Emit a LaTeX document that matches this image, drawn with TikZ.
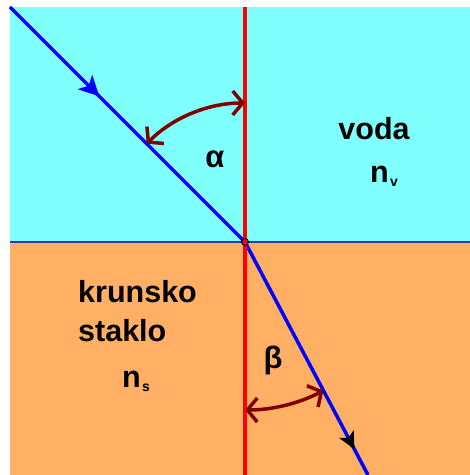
\documentclass[tikz,border=0pt]{standalone}
\usepackage{fontspec}
\setmainfont{Liberation Sans}
\usetikzlibrary{arrows.meta,decorations.markings}
\definecolor{Water}{HTML}{80FFFF}
\definecolor{Glass}{HTML}{FFB064}
\definecolor{RayBlue}{HTML}{0000FF}
\definecolor{NormalRed}{HTML}{FF0000}
\definecolor{AngleRed}{HTML}{800000}
\definecolor{Border}{HTML}{2E3DA8}

\begin{document}
\begin{tikzpicture}[x=1pt,y=1pt,
    ray/.style={RayBlue,line width=3.5pt},
    angarc/.style={AngleRed,line width=3.5pt,
      {Straight Barb[length=10pt,width=24pt]}-{Straight Barb[length=10pt,width=24pt]}},
    lbl/.style={font=\fontsize{30.5}{35}\selectfont\bfseries,inner sep=0pt},
    greek/.style={font=\fontsize{31}{34}\selectfont\bfseries,inner sep=0pt},
    sub/.style={font=\fontsize{14}{15}\selectfont\bfseries,inner sep=0pt}]
      \useasboundingbox (0,0) rectangle (470,475);
      % media
      \fill[Water] (10,233) rectangle (470,468);
      \fill[Glass] (10,0) rectangle (470,233);
      \draw[Border,line width=2pt] (10,233) -- (470,233);

      \coordinate (src) at (10,468);
      \coordinate (hit) at (245,233);
      \coordinate (out) at (368,0);
      \coordinate (ntop) at (245,468);
      \coordinate (nbot) at (245,0);

      % rays
      \draw[ray,postaction={decorate},decoration={markings,
          mark=at position 0.38 with {\arrow[RayBlue]{Stealth[length=20pt,width=20pt,inset=5pt]}}}]
        (src) -- (hit);
      \draw[ray,postaction={decorate},decoration={markings,
          mark=at position 0.89 with {\arrow[black]{Stealth[length=17pt,width=16pt,inset=4pt]}}}]
        (hit) -- (out);
      % normal
      \draw[NormalRed,line width=3.5pt] (ntop) -- (nbot);

      % angles
      \draw[angarc] ([shift={(90:139)}]hit) arc[start angle=90,end angle=135,radius=139];
      \draw[angarc] ([shift={(-90:168)}]hit) arc[start angle=-90,end angle=-62.2,radius=168];
      \draw[black,line width=0.9pt] (hit) circle (3.5pt);

      % labels
      \node[greek] (alpha) at (215,316) {α};
      \node[greek] (beta) at (273,115) {β};
      \node[lbl,anchor=base] (voda) at (374,335) {voda};
      \node[lbl,anchor=base west] (nv) at (370,292) {n};
      \node[sub,anchor=base west,xshift=1pt,yshift=-4pt] (nvsub) at (nv.base east) {v};
      \node[lbl,anchor=base west] (krunsko) at (78,172) {krunsko};
      \node[lbl,anchor=base west] (staklo) at (78,133) {staklo};
      \node[lbl,anchor=base west] (ns) at (122,87) {n};
      \node[sub,anchor=base west,xshift=1pt,yshift=-4pt] (nssub) at (ns.base east) {s};
    \end{tikzpicture}
\end{document}
